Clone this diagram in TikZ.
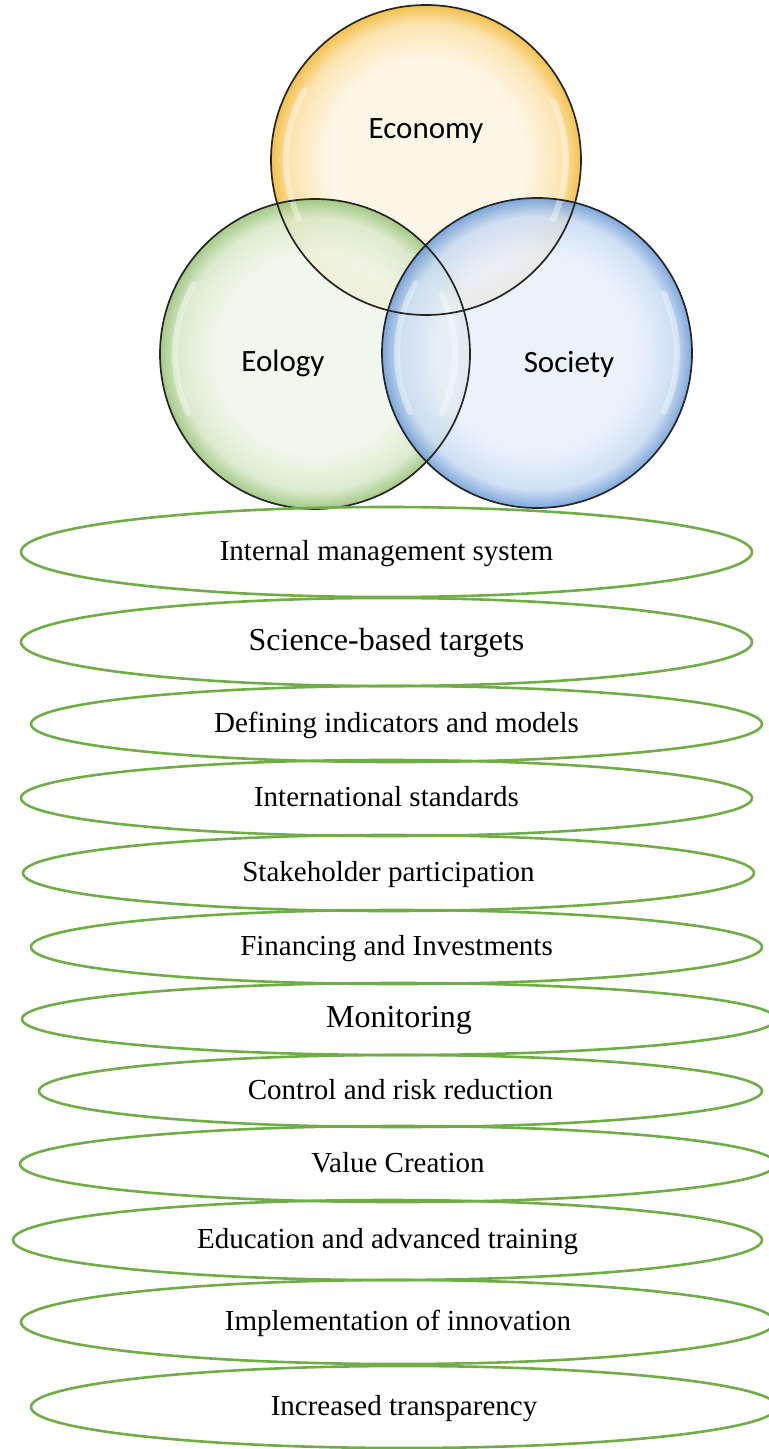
\documentclass[tikz,border=0pt]{standalone}
\usepackage{fontspec}
\setmainfont{Liberation Serif}
\newfontfamily\vennfont{Carlito}
\usetikzlibrary{shapes.geometric}

\definecolor{ringgreen}{HTML}{70AD47}
\definecolor{ecoin}{HTML}{FFF5E4}
\definecolor{ecomid}{HTML}{FBE0A6}
\definecolor{ecorim}{HTML}{F2B834}
\definecolor{eolin}{HTML}{F0F6EA}
\definecolor{eolmid}{HTML}{D8E9C9}
\definecolor{eolrim}{HTML}{98C278}
\definecolor{socin}{HTML}{E9F0FB}
\definecolor{socmid}{HTML}{CADCF4}
\definecolor{socrim}{HTML}{6E9BD6}

% pale middle, stronger colour toward the rim
\pgfdeclareradialshading{ecoshade}{\pgfpoint{0bp}{0bp}}{color(0bp)=(ecoin); color(16bp)=(ecoin); color(22bp)=(ecomid); color(25bp)=(ecorim); color(50bp)=(ecorim)}
\pgfdeclareradialshading{eolshade}{\pgfpoint{0bp}{0bp}}{color(0bp)=(eolin); color(16bp)=(eolin); color(22bp)=(eolmid); color(25bp)=(eolrim); color(50bp)=(eolrim)}
\pgfdeclareradialshading{socshade}{\pgfpoint{0bp}{0bp}}{color(0bp)=(socin); color(16bp)=(socin); color(22bp)=(socmid); color(25bp)=(socrim); color(50bp)=(socrim)}

\begin{document}
\begin{tikzpicture}[x=0.5pt, y=-0.5pt,
    bubble/.style = {circle, shade, minimum size=155pt, inner sep=0pt, fill opacity=0.88},
    rim/.style = {circle, draw=black!85, line width=0.85pt, minimum size=155pt, inner sep=0pt},
    gloss/.style = {white, line width=3pt, line cap=round, opacity=0.4},
    tag/.style = {font=\vennfont\fontsize{15.5}{18}\selectfont},
    ring/.style = {ellipse, draw=ringgreen, line width=1.3pt, inner sep=0pt,
                   minimum width=365.5pt, text height=11pt, text depth=3pt,
                   font=\fontsize{14.5}{17}\selectfont},
    big/.style = {font=\fontsize{16}{19}\selectfont}]
  \useasboundingbox (0,0) rectangle (769,1449);

  % three overlapping circles
  \node[bubble, shading=ecoshade] (eco) at (426,160) {};
  \node[bubble, shading=eolshade] (eol) at (315,354) {};
  \node[bubble, shading=socshade] (soc) at (537,353) {};
  % a soft highlight along the inside of each rim
  \foreach \c in {eco,eol,soc} {
    \draw[gloss] ([shift={(150:70pt)}]\c.center) arc[start angle=150, end angle=205, radius=70pt];
    \draw[gloss] ([shift={(-25:70pt)}]\c.center) arc[start angle=-25, end angle=25, radius=70pt];
  }
  \foreach \c in {eco,eol,soc}
    \node[rim] at (\c) {};
  \node[tag] (ecotag) at (426,131) {Economy};
  \node[tag] (eoltag) at (283,363) {Eology};
  \node[tag] (soctag) at (569,364) {Society};

  % stack of ellipses
  \node[ring, minimum height=45pt] (1) at (386.5,552) {Internal management system};
  \node[ring, big, minimum height=44pt] (2) at (386.5,642) {Science-based targets};
  \node[ring, minimum height=38pt] (3) at (396.5,724) {Defining indicators and models};
  \node[ring, minimum height=38pt] (4) at (386.5,798) {International standards};
  \node[ring, minimum height=38pt] (5) at (388.5,873) {Stakeholder participation};
  \node[ring, minimum height=37pt] (6) at (396.5,947) {Financing and Investments};
  \node[ring, big, minimum width=377pt, minimum height=36pt] (7) at (399,1019) {Monitoring};
  \node[ring, minimum width=361.5pt, minimum height=36pt] (8) at (400.5,1091) {Control and risk reduction};
  \node[ring, minimum width=378pt, minimum height=38pt] (9) at (398,1164) {Value Creation};
  \node[ring, minimum width=374.5pt, minimum height=40pt] (10) at (387.5,1240) {Education and advanced training};
  \node[ring, minimum width=377pt, minimum height=42pt] (11) at (398,1322) {Implementation of innovation};
  \node[ring, minimum width=373pt, minimum height=41pt] (12) at (404,1407) {Increased transparency};
\end{tikzpicture}
\end{document}
